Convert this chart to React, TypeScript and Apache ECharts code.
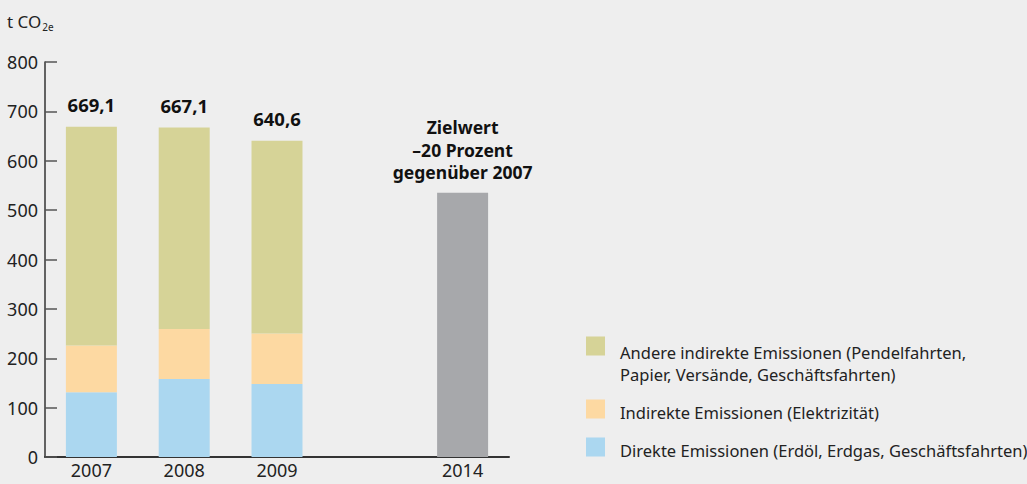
import React, { useEffect, useRef } from "react";
import * as echarts from "echarts";

const categories = ["2007", "2008", "2009", "", "2014"];
const direkte = [131, 158, 148, "-", "-"];
const indirekte = [95, 101, 102, "-", "-"];
const andere = [443.1, 408.1, 390.6, "-", "-"];
const totals = [669.1, 667.1, 640.6];
const zielwert = ["-", "-", "-", "-", 535.3];
const zielLabel = "Zielwert\n–20 Prozent\ngegenüber 2007";
const yTicks = [0, 100, 200, 300, 400, 500, 600, 700, 800];
const legendItems = [
  { name: "Andere indirekte Emissionen (Pendelfahrten,\nPapier, Versände, Geschäftsfahrten)", color: "#d6d397" },
  { name: "Indirekte Emissionen (Elektrizität)", color: "#fdd9a2" },
  { name: "Direkte Emissionen (Erdöl, Erdgas, Geschäftsfahrten)", color: "#abd7f0" },
];

const FONT = "'Noto Sans', sans-serif";

export default function App() {
  const ref = useRef<HTMLDivElement>(null);
  useEffect(() => {
    document.body.style.margin = "0";
    const chart = echarts.init(ref.current!, null, { renderer: "svg" });
    const fmt = (v: number) => v.toFixed(1).replace(".", ",");
    const textCenters = [352, 412, 450];
    const iconCenters = [346, 409, 447];
    const graphic: any[] = [
      {
        type: "text",
        left: 7,
        top: 13,
        style: {
          text: "t CO{s|2e}",
          font: `17px ${FONT}`,
          fill: "#222",
          rich: { s: { fontSize: 10, padding: [11, 0, 0, 1], fontFamily: FONT, fill: "#222" } },
        },
      },
    ];
    legendItems.forEach((it, i) => {
      graphic.push({
        type: "rect",
        shape: { x: 586, y: iconCenters[i] - 9.5, width: 19, height: 19 },
        style: { fill: it.color },
      });
      graphic.push({
        type: "text",
        x: 620,
        y: textCenters[i] - 11,
        style: {
          text: it.name,
          font: `16.5px ${FONT}`,
          fill: "#222",
          lineHeight: 22,
          verticalAlign: "top",
        },
      });
    });
    chart.setOption({
      animation: false,
      backgroundColor: "#eeeeee",
      textStyle: { fontFamily: FONT },
      grid: { left: 45, right: 518, top: 62, bottom: 27, containLabel: false },
      xAxis: {
        type: "category",
        data: categories,
        axisLine: { lineStyle: { color: "#333", width: 2 } },
        axisTick: { show: false },
        axisLabel: { color: "#222", fontSize: 18, margin: 4, fontFamily: FONT },
      },
      yAxis: {
        type: "value",
        min: yTicks[0],
        max: yTicks[yTicks.length - 1],
        interval: 100,
        axisLine: { show: true, lineStyle: { color: "#333", width: 1.5 } },
        axisTick: { show: true, inside: true, length: 12, lineStyle: { color: "#555", width: 1.5 } },
        splitLine: { show: false },
        axisLabel: { color: "#222", fontSize: 18, margin: 7, fontFamily: FONT },
      },
      series: [
        {
          name: legendItems[2].name,
          type: "bar",
          stack: "a",
          barWidth: 51,
          data: direkte,
          itemStyle: { color: legendItems[2].color },
        },
        {
          name: legendItems[1].name,
          type: "bar",
          stack: "a",
          data: indirekte,
          itemStyle: { color: legendItems[1].color },
        },
        {
          name: legendItems[0].name,
          type: "bar",
          stack: "a",
          data: andere,
          itemStyle: { color: legendItems[0].color },
          label: {
            show: true,
            position: "top",
            distance: 13,
            formatter: (p: any) => fmt(totals[p.dataIndex]),
            fontWeight: "bold",
            fontSize: 18.5,
            color: "#111",
            fontFamily: FONT,
          },
        },
        {
          name: "Zielwert",
          type: "bar",
          stack: "a",
          data: zielwert,
          itemStyle: { color: "#a7a8ab" },
          label: {
            show: true,
            position: "top",
            distance: 9,
            formatter: zielLabel,
            fontWeight: "bold",
            fontSize: 17.5,
            lineHeight: 22.5,
            align: "center",
            color: "#111",
            fontFamily: FONT,
          },
        },
      ],
      graphic,
    });
    return () => chart.dispose();
  }, []);
  return <div ref={ref} style={{ position: "absolute", left: 0, top: 0, width: 1027, height: 484 }} />;
}
